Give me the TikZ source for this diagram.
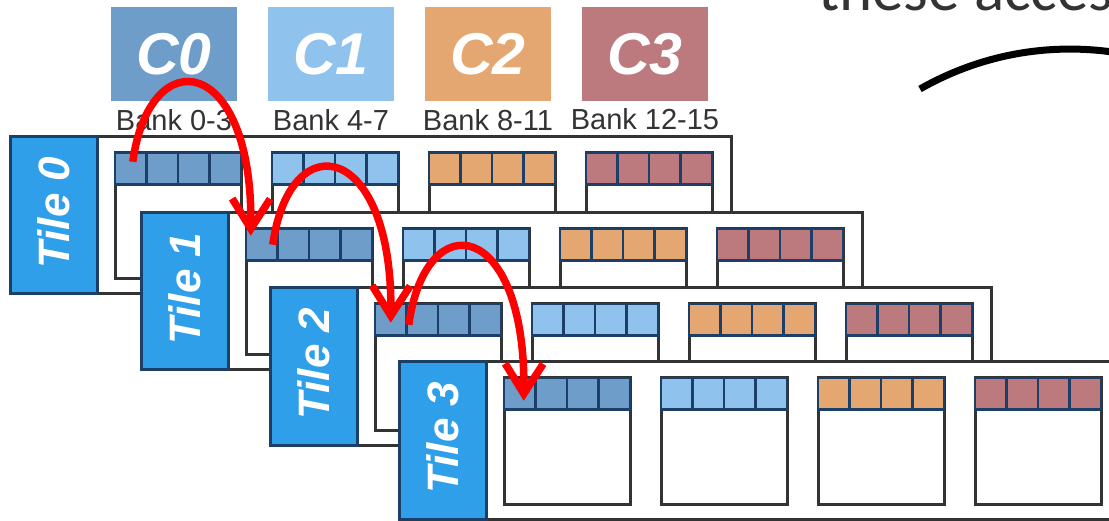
\documentclass[tikz,border=0pt]{standalone}
\usepackage{fontspec}
\setmainfont{Liberation Sans}
\newfontfamily\notefont{Carlito}
\usetikzlibrary{arrows.meta, positioning, calc}
\definecolor{cbank0}{HTML}{6E9DC9}
\definecolor{cbank1}{HTML}{90C2EE}
\definecolor{cbank2}{HTML}{E5A772}
\definecolor{cbank3}{HTML}{BC7A7E}
\definecolor{ctab}{HTML}{2E9FE8}
\definecolor{cline}{HTML}{333333}
\definecolor{cedge}{HTML}{1B3F66}
\tikzset{
  chan/.style={fill=cbank#1, minimum width=126pt, minimum height=94pt, inner sep=0pt, outer sep=0pt, text=white,
    font=\fontsize{59}{60}\selectfont\bfseries\itshape},
  banklabel/.style={inner sep=0pt, outer sep=0pt, text=cline, font=\fontsize{29}{30}\selectfont},
  frame/.style={draw=cline, fill=white, line width=3pt, minimum width=721pt, minimum height=157pt, inner sep=0pt, outer sep=0pt, anchor=north west},
  tab/.style={draw=cedge, fill=ctab, line width=3pt, minimum width=87pt, minimum height=157pt, inner sep=0pt, outer sep=0pt, anchor=north west},
  tabtext/.style={rotate=90, text=white, inner sep=0pt, font=\fontsize{44}{46}\selectfont\bfseries\itshape},
  bank/.style={draw=cline, fill=white, line width=3pt, minimum width=126pt, minimum height=126pt, inner sep=0pt, outer sep=0pt, anchor=north west},
  cell/.style={draw=cedge, fill=cbank#1, line width=2.5pt, minimum width=31.5pt, minimum height=31.5pt, inner sep=0pt, outer sep=0pt, anchor=north west},
  hop/.style={draw=red, line width=7.5pt, -{Straight Barb[length=30pt, width=38pt, line width=7.5pt]}},
}

\begin{document}
\begin{tikzpicture}[x=1pt, y=-1pt]
  \useasboundingbox (0,0) rectangle (1109,521);
  \clip (0,0) rectangle (1109,521);
  \foreach \j/\cx in {0/174, 1/331, 2/488, 3/645} {
    \node[chan=\j] (ch\j) at (\cx,54) {C\j};
  }
  \node[banklabel, below=8pt of ch0] (lab0) {Bank 0-3};
  \node[banklabel, below=8pt of ch1] (lab1) {Bank 4-7};
  \node[banklabel, below=8pt of ch2] (lab2) {Bank 8-11};
  \node[banklabel, below=7pt of ch3] (lab3) {Bank 12-15};
  % one frame per tile, later ones cover the earlier ones
  \foreach \i/\tx/\ty in {0/10/137, 1/141/213, 2/270/288, 3/399/362} {
    \node[frame] (t\i) at (\tx,\ty) {};
    \node[tab] (tab\i) at (t\i.north west) {};
    \node[tabtext, xshift=3pt] (name\i) at (tab\i.center) {Tile \i};
    \foreach \j in {0,1,2,3} {
      \node[bank] (b\i\j) at ([xshift=105pt+\j*157pt, yshift=-16pt]t\i.north west) {};
      \foreach \k in {0,1,2,3} {
        \node[cell=\j] (c\i\j\k) at ([xshift=\k*31.5pt]b\i\j.north west) {};
      }
    }
  }
  % hops between tiles
  \draw[hop] ($(c000.center)+(2,-7)$) .. controls +(17,-122) and +(2,-182) .. ($(c100.center)+(-11,-9)$);
  \draw[hop] ($(c100.center)+(11,0)$) .. controls +(17,-122) and +(2,-182) .. ($(c200.center)+(0,3)$);
  \draw[hop] ($(c200.center)+(18,5)$) .. controls +(17,-122) and +(2,-182) .. ($(c300.center)+(4,7)$);
  % text and curve cut off at the top right
  \node[anchor=base west, inner sep=0pt, text=cline, font=\notefont\fontsize{63}{65}\selectfont] (note) at (818,11) {these acces};
  \coordinate (sweep0) at (920,89);
  \coordinate (sweep1) at (1135,56);
  \draw[black, line width=7pt] (sweep0) .. controls (985,52) and (1060,40) .. (sweep1);
\end{tikzpicture}
\end{document}
